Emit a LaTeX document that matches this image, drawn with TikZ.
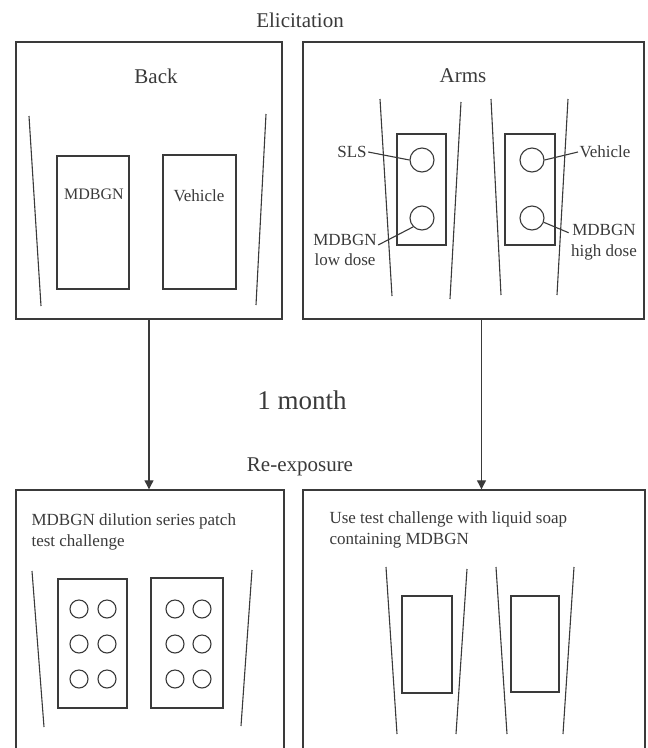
\documentclass[tikz,border=0pt]{standalone}
\usepackage{fontspec}
\setmainfont{Liberation Serif}
\usetikzlibrary{arrows.meta}
\definecolor{ink}{HTML}{3A3A3A}
\newcommand{\bigtxt}{\fontsize{21}{24}\selectfont}
\newcommand{\midtxt}{\fontsize{17}{20.5}\selectfont}

\begin{document}
\begin{tikzpicture}[x=1pt, y=-1pt, ink, line width=1.1pt,
    panel/.style={draw, line width=1.4pt, rectangle, inner sep=0pt},
    spot/.style={draw, circle, minimum size=24pt, inner sep=0pt},
    lbl/.style={text=ink, inner sep=1pt, font=\midtxt, align=center},
    arr/.style={-{Triangle[length=9pt,width=9pt]}}]
    \useasboundingbox (0,0) rectangle (648,748);
    \clip (0,0) rectangle (648,748);

    % headings
    \node[font=\bigtxt] (elic) at (300,20) {Elicitation};
    \node[font=\fontsize{27}{30}\selectfont] (month) at (302,400) {1 month};
    \node[font=\bigtxt] (reexp) at (300,467) {Re-exposure};

    % panels
    \node[panel, minimum width=266pt, minimum height=277pt] (back) at (149,180.5) {};
    \node[panel, minimum width=341pt, minimum height=277pt] (arms) at (473.5,180.5) {};
    \node[panel, minimum width=268pt, minimum height=280pt] (dil) at (150,630) {};
    \node[panel, minimum width=342pt, minimum height=280pt] (soap) at (474,630) {};

    \draw[arr] (back.south) -- (back.south |- dil.north);
    \draw[arr] ([xshift=8pt]arms.south) -- ([xshift=8pt]arms.south |- soap.north);

    % back
    \node[font=\bigtxt] (backt) at (156,76) {Back};
    \draw (29,116) -- (41,306);
    \draw (266,114) -- (256,305);
    \draw (57,156) rectangle (129,289);
    \draw (163,155) rectangle (236,289);
    \node[font=\fontsize{16}{18}\selectfont] (mdb) at (94,194) {MDBGN};
    \node[lbl] (veh) at (199,196) {Vehicle};

    % arms
    \node[font=\bigtxt] (armst) at (463,76) {Arms};
    \draw (380,99) -- (392,296);
    \draw (461,102) -- (450,299);
    \draw (491,99) -- (501,295);
    \draw (568,99) -- (557,295);
    \draw (397,134) rectangle (446,245);
    \draw (505,134) rectangle (555,245);
    \node[spot] (sls) at (422,160) {};
    \node[spot] (low) at (422,218) {};
    \node[spot] (vehc) at (532,160) {};
    \node[spot] (high) at (532,218) {};
    \node[lbl] (slsl) at (352,152) {SLS};
    \node[lbl] (lowl) at (345,250) {MDBGN\\low dose};
    \node[lbl] (vehl) at (605,152) {Vehicle};
    \node[lbl] (highl) at (604,242) {MDBGN\\high dose};
    \draw (slsl.east) -- (sls.west);
    \draw ([yshift=5pt]lowl.east) -- (low.south west);
    \draw (vehl.west) -- (vehc.east);
    \draw ([xshift=-1pt,yshift=-10pt]highl.north west) -- (high.-20);

    % dilution series
    \node[lbl, align=left, anchor=west] (dilt) at (30,532) {MDBGN dilution series patch\\test challenge};
    \draw (32,571) -- (44,727);
    \draw (252,570) -- (241,726);
    \draw (58,579) rectangle (127,708);
    \draw (151,578) rectangle (223,708);
    \foreach \x in {79,107,175,202}
        \foreach \y in {609,644,679}
            \draw (\x,\y) circle[radius=9];

    % soap
    \node[lbl, align=left, anchor=west] (soapt) at (328,530) {Use test challenge with liquid soap\\containing MDBGN};
    \draw (386,567) -- (397,734);
    \draw (467,569) -- (456,734);
    \draw (496,567) -- (507,734);
    \draw (574,567) -- (563,734);
    \draw (402,596) rectangle (452,693);
    \draw (511,596) rectangle (559,692);
\end{tikzpicture}
\end{document}
